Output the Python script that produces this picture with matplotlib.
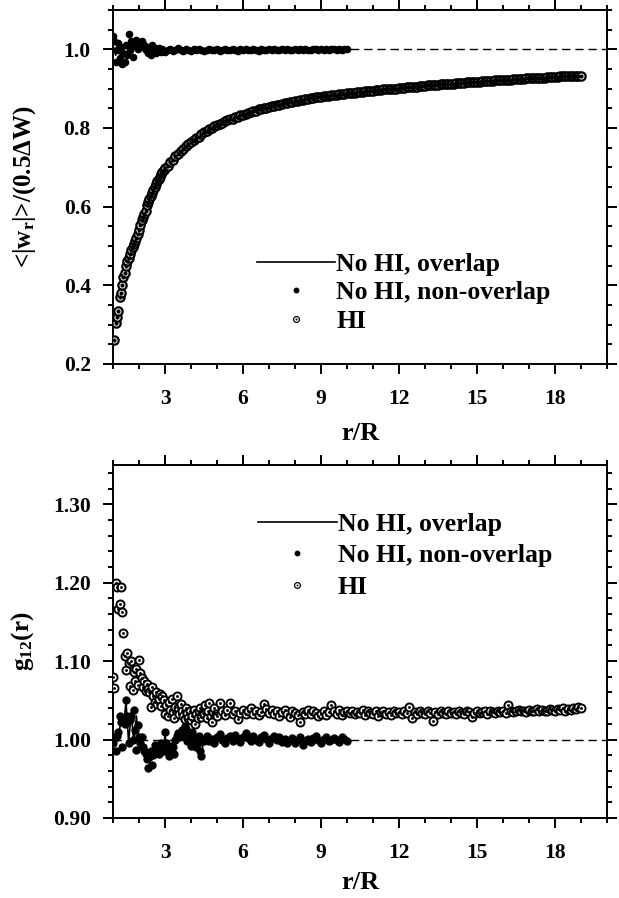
import numpy as np
import matplotlib as mpl
mpl.use('Agg')
import matplotlib.pyplot as plt
from matplotlib.lines import Line2D
from matplotlib.legend_handler import HandlerTuple
from matplotlib.ticker import MultipleLocator, FormatStrFormatter

plt.rcParams['font.family'] = ['Liberation Serif', 'DejaVu Serif']
plt.rcParams['font.weight'] = 'bold'
plt.rcParams['mathtext.fontset'] = 'custom'
plt.rcParams['mathtext.rm'] = 'Liberation Serif:bold'
plt.rcParams['mathtext.it'] = 'Liberation Serif:italic'
plt.rcParams['mathtext.bf'] = 'Liberation Serif:bold'
plt.rcParams['mathtext.sf'] = 'Liberation Serif'

## ---------------- top panel data: <|w_r|>/(0.5 dW) ----------------
r_hi_top = np.round(np.concatenate([np.arange(1.05, 2.99, 0.05), np.arange(3.0, 19.01, 0.1)]), 2)
w_hi_top = [0.262, 0.305, 0.320, 0.335, 0.370, 0.380, 0.400, 0.420, 0.430, 0.450,
            0.462, 0.470, 0.480, 0.490, 0.497, 0.505, 0.512, 0.520, 0.530, 0.540,
            0.553, 0.566, 0.573, 0.580, 0.590, 0.605, 0.612, 0.620, 0.628, 0.635,
            0.643, 0.650, 0.657, 0.664, 0.670, 0.676, 0.682, 0.687, 0.692,
            0.697, 0.704, 0.713, 0.719, 0.728, 0.733, 0.742, 0.746, 0.754, 0.758,
            0.765, 0.769, 0.775, 0.778, 0.784, 0.789, 0.792, 0.797, 0.800, 0.804,
            0.807, 0.811, 0.813, 0.817, 0.819, 0.822, 0.824, 0.828, 0.829, 0.832,
            0.834, 0.836, 0.838, 0.841, 0.842, 0.844, 0.847, 0.848, 0.851, 0.852,
            0.853, 0.855, 0.856, 0.859, 0.859, 0.861, 0.863, 0.864, 0.866, 0.867,
            0.868, 0.869, 0.871, 0.872, 0.873, 0.874, 0.876, 0.876, 0.878, 0.878,
            0.879, 0.880, 0.881, 0.882, 0.883, 0.884, 0.885, 0.886, 0.887, 0.887,
            0.888, 0.889, 0.890, 0.890, 0.891, 0.892, 0.892, 0.893, 0.894, 0.894,
            0.895, 0.896, 0.896, 0.897, 0.898, 0.898, 0.899, 0.899, 0.900, 0.900,
            0.901, 0.902, 0.902, 0.903, 0.904, 0.904, 0.905, 0.905, 0.906, 0.906,
            0.907, 0.908, 0.908, 0.909, 0.910, 0.910, 0.911, 0.911, 0.912, 0.912,
            0.913, 0.913, 0.914, 0.914, 0.915, 0.915, 0.916, 0.916, 0.917, 0.917,
            0.918, 0.918, 0.919, 0.919, 0.920, 0.920, 0.920, 0.921, 0.921, 0.922,
            0.922, 0.922, 0.923, 0.923, 0.924, 0.924, 0.924, 0.925, 0.925, 0.926,
            0.926, 0.926, 0.927, 0.927, 0.928, 0.928, 0.928, 0.929, 0.929, 0.930,
            0.930, 0.930, 0.931, 0.931, 0.931, 0.932, 0.932, 0.932, 0.933, 0.933,
            0.933]

r_dot_top = np.round(np.concatenate([np.arange(1.0, 3.01, 0.05), np.arange(3.1, 10.01, 0.1)]), 2)
w_dot_top = [1.035, 1.022, 0.968, 0.997, 1.015, 0.978, 1.005, 0.962, 0.990, 0.967,
             1.010, 0.985, 1.038, 0.997, 1.020, 0.980, 1.018, 1.008, 1.024, 1.002,
             1.015, 1.009, 1.020, 1.006, 1.012, 0.998, 1.007, 0.990, 1.003, 0.985,
             1.010, 0.994, 1.003, 0.990, 0.997, 1.004, 0.995, 0.992, 1.000, 0.996,
             0.993,
             0.998, 1.002, 0.996, 0.999, 1.003, 0.997, 0.995, 1.001, 0.998, 0.996,
             1.000, 0.997, 1.002, 0.998, 0.995, 0.999, 1.001, 0.997, 0.998, 1.000,
             0.996, 0.999, 1.002, 0.998, 0.997, 1.001, 0.999, 0.996, 1.000, 0.998,
             1.001, 0.997, 0.999, 1.002, 0.998, 0.996, 1.000, 0.999, 0.997, 1.001,
             0.998, 1.000, 0.997, 0.999, 1.001, 0.998, 1.000, 0.999, 0.997, 1.000,
             0.999, 1.001, 0.998, 1.000, 0.999, 0.998, 1.000, 1.001, 0.999, 1.000,
             0.998, 1.001, 0.999, 1.000, 1.002, 0.999, 1.000, 0.998, 1.001, 1.000]

r_line_top = np.round(np.arange(1.0, 10.01, 0.1), 2)
w_line_top = [1.010, 0.985, 1.005, 0.980, 1.000, 1.015, 0.995, 1.010, 1.005, 1.012,
              1.008, 1.006, 1.003, 0.998, 1.002, 0.996, 1.001, 0.998, 1.000, 0.999,
              0.998, 1.000, 0.999, 1.001, 0.998, 1.000, 0.999, 1.000, 0.998, 1.000,
              0.999, 1.000, 1.001, 0.999, 1.000, 0.999, 1.000, 0.999, 1.001, 1.000,
              0.999, 1.000, 0.999, 1.000, 1.000, 0.999, 1.000, 1.001, 0.999, 1.000,
              1.000, 0.999, 1.000, 1.000, 0.999, 1.000, 1.000, 0.999, 1.000, 1.000,
              0.999, 1.000, 1.000, 0.999, 1.000, 1.000, 1.000, 0.999, 1.000, 1.000,
              0.999, 1.000, 1.000, 1.000, 0.999, 1.000, 1.000, 1.000, 0.999, 1.000,
              1.000, 1.000, 0.999, 1.000, 1.000, 1.000, 0.999, 1.000, 1.000, 1.000,
              1.000]

## ---------------- bottom panel data: g12(r) ----------------
r_hi_bot = np.round(np.concatenate([np.arange(1.0, 5.01, 0.05), np.arange(5.1, 19.01, 0.1)]), 2)
g_hi_bot = [1.080, 1.066, 1.200, 1.195, 1.167, 1.173, 1.195, 1.162, 1.136, 1.106,
            1.089, 1.110, 1.098, 1.068, 1.100, 1.063, 1.086, 1.075, 1.090, 1.070,
            1.101, 1.085, 1.078, 1.067, 1.074, 1.062, 1.071, 1.064, 1.060, 1.042,
            1.067, 1.055, 1.048, 1.060, 1.045, 1.052, 1.058, 1.043, 1.055, 1.050,
            1.032, 1.044, 1.030, 1.048, 1.038, 1.052, 1.035, 1.028, 1.042, 1.055,
            1.040, 1.033, 1.045, 1.037, 1.030, 1.026, 1.040, 1.034, 1.028, 1.036,
            1.025, 1.030, 1.038, 1.020, 1.033, 1.027, 1.036, 1.040, 1.029, 1.034,
            1.032, 1.044, 1.028, 1.036, 1.047, 1.030, 1.022, 1.035, 1.040, 1.033,
            1.030,
            1.047, 1.036, 1.031, 1.038, 1.047, 1.033, 1.037, 1.026, 1.034,
            1.038, 1.032, 1.036, 1.040, 1.033, 1.037, 1.031, 1.035, 1.045, 1.039,
            1.034, 1.038, 1.032, 1.036, 1.030, 1.035, 1.038, 1.033, 1.029, 1.036,
            1.034, 1.031, 1.023, 1.035, 1.033, 1.038, 1.032, 1.036, 1.034, 1.030,
            1.033, 1.037, 1.031, 1.035, 1.044, 1.036, 1.033, 1.038, 1.031, 1.035,
            1.036, 1.034, 1.037, 1.032, 1.035, 1.034, 1.038, 1.031, 1.036, 1.034,
            1.033, 1.036, 1.030, 1.035, 1.037, 1.033, 1.035, 1.031, 1.036, 1.034,
            1.035, 1.032, 1.036, 1.034, 1.042, 1.027, 1.035, 1.033, 1.036, 1.034,
            1.032, 1.036, 1.034, 1.024, 1.035, 1.033, 1.037, 1.034, 1.032, 1.036,
            1.034, 1.035, 1.033, 1.036, 1.034, 1.032, 1.036, 1.035, 1.029, 1.034,
            1.036, 1.034, 1.035, 1.037, 1.033, 1.036, 1.035, 1.034, 1.037, 1.035,
            1.036, 1.034, 1.044, 1.037, 1.035, 1.036, 1.038, 1.036, 1.037, 1.035,
            1.038, 1.036, 1.037, 1.039, 1.036, 1.038, 1.037, 1.036, 1.039, 1.038,
            1.037, 1.039, 1.038, 1.040, 1.037, 1.039, 1.038, 1.040, 1.039, 1.041,
            1.040]

r_dot_bot = np.round(np.concatenate([np.arange(1.0, 4.51, 0.05), np.arange(4.6, 10.01, 0.1)]), 2)
g_dot_bot = [0.995, 1.002, 0.985, 1.005, 1.010, 1.030, 1.022, 0.991, 1.025, 1.020,
             1.051, 1.030, 0.996, 1.025, 1.030, 1.000, 1.038, 1.012, 0.987, 1.018,
             1.003, 0.995, 1.003, 0.991, 0.985, 0.981, 0.975, 0.964, 0.978, 0.985,
             0.968, 0.980, 0.993, 0.985, 0.990, 0.982, 0.990, 0.995, 0.993, 0.985,
             1.009, 0.995, 0.988, 0.979, 0.985, 0.992, 0.990, 0.982, 1.000, 1.004,
             1.008, 1.003, 1.004, 1.012, 1.008, 1.017, 1.014, 0.998, 1.000, 1.005,
             0.992, 1.009, 1.000, 1.002, 0.990, 0.996, 1.004, 0.985, 0.979, 1.000,
             0.998,
             1.004, 0.998, 1.001, 0.996, 1.003, 1.007, 0.999, 0.995, 1.002, 1.004,
             0.998, 1.006, 1.001, 0.997, 1.003, 1.008, 1.002, 0.998, 1.005, 1.000,
             0.997, 1.003, 1.006, 1.001, 0.996, 1.002, 1.004, 0.999, 1.003, 0.997,
             1.001, 0.995, 0.999, 1.002, 0.996, 1.000, 1.003, 0.993, 0.998, 1.001,
             0.997, 1.002, 1.004, 0.999, 0.996, 1.001, 1.003, 0.998, 1.000, 1.002,
             0.999, 0.997, 1.003, 1.001, 0.998]

r_line_bot = np.round(np.arange(1.0, 10.01, 0.1), 2)
g_line_bot = [0.998, 1.004, 0.998, 1.025, 1.018, 1.048, 0.996, 1.035, 0.995, 1.030,
              0.990, 1.000, 0.980, 0.972, 0.983, 0.975, 0.990, 0.980, 0.993, 0.984,
              1.005, 0.985, 0.992, 0.980, 0.998, 1.005, 1.000, 1.012, 1.008, 0.996,
              1.004, 0.995, 1.003, 0.990, 0.982, 1.000, 1.002, 0.998, 1.003, 0.999,
              1.004, 1.001, 0.998, 1.003, 1.005, 1.000, 0.998, 1.002, 1.004, 0.999,
              1.001, 1.003, 0.998, 1.002, 1.000, 0.997, 1.001, 1.003, 0.999, 1.002,
              0.998, 1.001, 1.000, 0.997, 1.002, 0.999, 1.001, 1.003, 0.998, 1.000,
              1.002, 0.999, 1.001, 0.998, 1.000, 1.002, 1.000, 0.998, 1.001, 0.999,
              1.000, 1.002, 0.999, 1.000, 1.001, 0.998, 1.000, 1.001, 0.999, 1.000,
              0.999]

labels = ['No HI, overlap', 'No HI, non-overlap', 'HI']

fs_tick = 15.5
fs_xlab = 19
fs_ylab = 18
fs_leg = 18.5
lw = 1.2

fig = plt.figure(figsize=(6.19, 8.98), dpi=100)
ax1 = fig.add_axes([0.1826, 0.5947, 0.798, 0.3942])
ax2 = fig.add_axes([0.1826, 0.0891, 0.798, 0.3931])


def draw(ax, rl, yl, rd, yd, rh, yh, ms_d, ms_c, mew_c, ms_cd):
    ax.axhline(1.0, color='black', lw=1.0, ls=(0, (6, 3.5)), zorder=1)
    ax.plot(rl, yl, color='black', lw=lw, zorder=2)
    ax.plot(rd, yd, ls='none', marker='o', ms=ms_d, mfc='black', mec='black', zorder=3)
    ax.plot(rh, yh, ls='none', marker='o', ms=ms_c, mfc='white', mec='black', mew=mew_c, zorder=4)
    ax.plot(rh, yh, ls='none', marker='o', ms=ms_cd, mfc='black', mec='black', mew=0, zorder=5)
    ax.set_xlim(1, 20)
    ax.xaxis.set_major_locator(MultipleLocator(3))
    ax.xaxis.set_minor_locator(MultipleLocator(1))
    for s in ax.spines.values():
        s.set_linewidth(1.4)
    ax.tick_params(which='both', direction='out', top=True, right=True, width=1.4)
    ax.tick_params(which='major', length=7, pad=9, labelsize=fs_tick)
    ax.tick_params(which='minor', length=3.5)
    ax.tick_params(axis='x', which='major', pad=11)
    ax.set_xlabel('r/R', fontsize=fs_xlab, fontweight='bold')
    h_line = Line2D([], [], color='black', lw=lw)
    h_dot = Line2D([], [], ls='none', marker='o', ms=3.2, mfc='black', mec='black')
    h_c = Line2D([], [], ls='none', marker='o', ms=4.2, mfc='white', mec='black', mew=0.9)
    h_c2 = Line2D([], [], ls='none', marker='o', ms=1.4, mfc='black', mec='black', mew=0)
    return [h_line, h_dot, (h_c, h_c2)]


leg_kw = dict(loc='upper left', frameon=False, fontsize=fs_leg, handlelength=3.05,
              handletextpad=0.05, borderpad=0, borderaxespad=0,
              handler_map={tuple: HandlerTuple(ndivide=1, pad=0)})

handles = draw(ax1, r_line_top, w_line_top, r_dot_top, w_dot_top, r_hi_top, w_hi_top,
               4.5, 6.0, 1.6, 3.0)
ax1.set_ylim(0.2, 1.1)
ax1.yaxis.set_major_locator(MultipleLocator(0.2))
ax1.yaxis.set_minor_locator(MultipleLocator(0.05))
ax1.yaxis.set_major_formatter(FormatStrFormatter('%.1f'))
ax1.set_ylabel(r'<|w$_{\mathbf{r}}$|>/(0.5$\mathsf{ΔW}$)', fontsize=fs_ylab, fontweight='bold')
ax1.yaxis.set_label_coords(-0.152, 0.5)
ax1.xaxis.set_label_coords(0.5, -0.165)
ax1.legend(handles, labels, bbox_to_anchor=(0.291, 0.314), labelspacing=0.22, **leg_kw)

handles = draw(ax2, r_line_bot, g_line_bot, r_dot_bot, g_dot_bot, r_hi_bot, g_hi_bot,
               5.0, 5.8, 1.4, 2.1)
ax2.set_ylim(0.9, 1.35)
ax2.yaxis.set_major_locator(MultipleLocator(0.1))
ax2.yaxis.set_minor_locator(MultipleLocator(0.02))
ax2.yaxis.set_major_formatter(FormatStrFormatter('%.2f'))
ax2.set_ylabel(r'g$_{\mathsf{12}}$(r)', fontsize=fs_ylab, fontweight='bold')
ax2.yaxis.set_label_coords(-0.155, 0.5)
ax2.xaxis.set_label_coords(0.5, -0.15)
ax2.legend(handles, labels, bbox_to_anchor=(0.294, 0.864), labelspacing=0.33, **leg_kw)

plt.savefig('out.png', dpi=100)
